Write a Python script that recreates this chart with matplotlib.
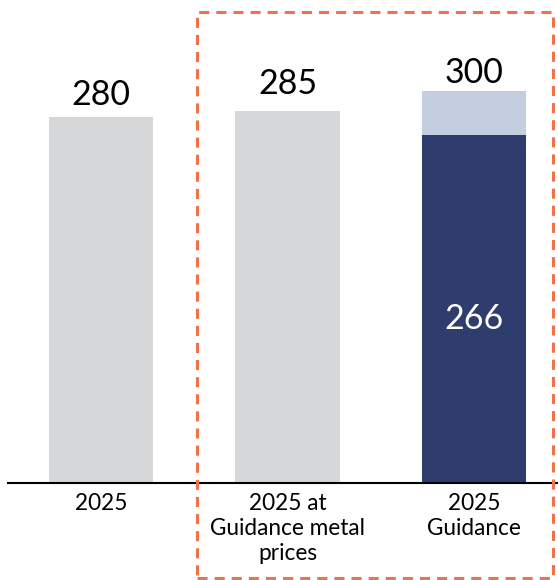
import matplotlib
matplotlib.use("Agg")
import matplotlib.pyplot as plt
import matplotlib.patches as mpatches
import numpy as np

# data
categories = ["2025", "2025 at\nGuidance metal\nprices", "2025\nGuidance"]
totals = [280, 285, 300]
base_part = [280, 285, 266]
inner_label = "266"

GREY = "#D6D7D9"
LIGHT = "#C4CEE0"
NAVY = "#2E3C6E"
ORANGE = "#F0714A"

plt.rcParams["font.family"] = ["Lato", "DejaVu Sans"]

fig = plt.figure(figsize=(5.58, 5.80), dpi=100)
ax = fig.add_axes([8 / 558, 97 / 580, 549 / 558, 483 / 580])

x = np.arange(len(categories))
width = 0.558
base_colors = [GREY, GREY, NAVY]
ax.bar(x, base_part, width=width, color=base_colors)
top_part = [t - b for t, b in zip(totals, base_part)]
ax.bar(x, top_part, bottom=base_part, width=width,
       color=[GREY, GREY, LIGHT])

# value labels above bars
offsets = [8.6, 12.2, 5.8]
for xi, t, off in zip(x, totals, offsets):
    ax.annotate(str(t), (xi, t), xytext=(0, off), textcoords="offset points",
                ha="center", va="baseline", fontsize=24.5, color="black")
ax.text(x[2], 118, inner_label, ha="center", va="baseline",
        fontsize=24.5, color="white")

ax.set_xlim(-0.4987, 2.445)
ax.set_ylim(0, 369.6)
ax.set_xticks(x)
ax.set_xticklabels(categories, fontsize=16.3, linespacing=1.25)
ax.tick_params(axis="x", length=0, pad=7)
ax.set_yticks([])
for s in ["top", "left", "right"]:
    ax.spines[s].set_visible(False)
ax.spines["bottom"].set_linewidth(1.5)
ax.spines["bottom"].set_color("black")

# dashed highlight box
rect = mpatches.Rectangle((197 / 558, 2 / 580), 356 / 558, 566 / 580,
                          transform=fig.transFigure, fill=False,
                          edgecolor=ORANGE, linewidth=2.2,
                          linestyle=(0, (3.3, 2.3)), clip_on=False)
fig.patches.append(rect)

fig.savefig("out.png", dpi=100)
plt.close(fig)
